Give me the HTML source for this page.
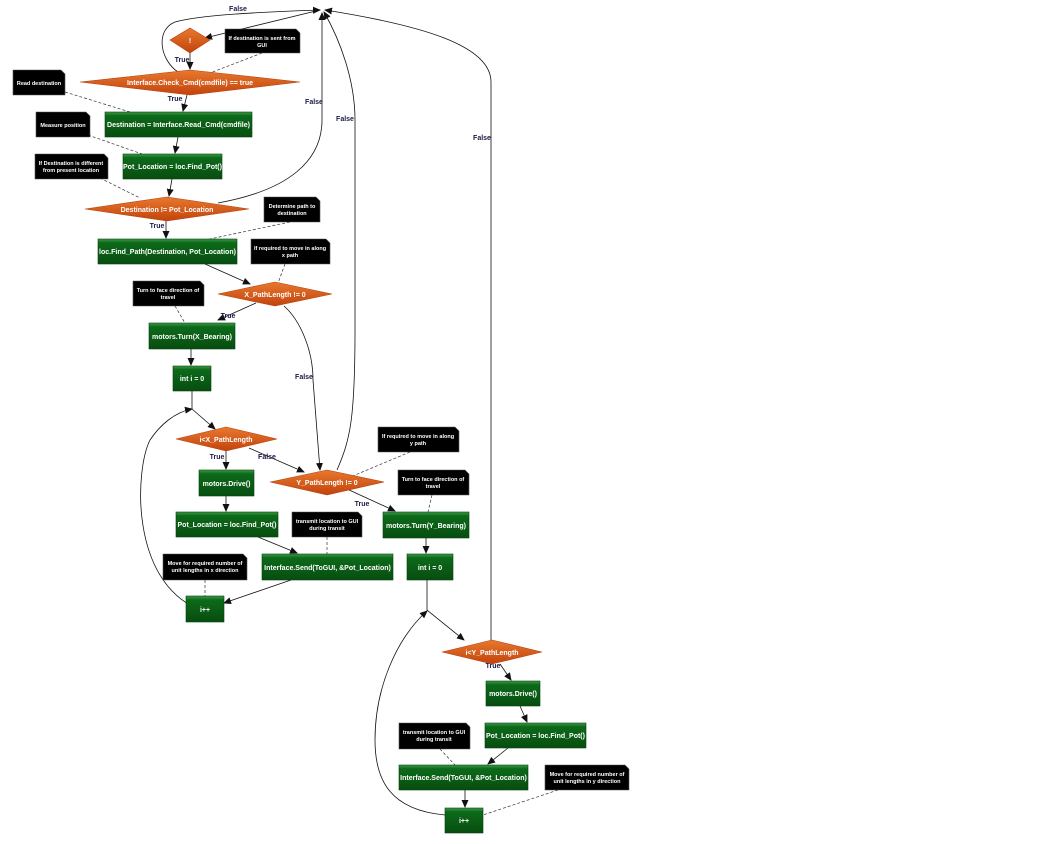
<!DOCTYPE html>
<html><head><meta charset="utf-8"><style>
html,body{margin:0;padding:0;background:#fff;}
svg{display:block;font-family:"Liberation Sans",sans-serif;}
.bt{fill:#fff;font-size:7px;text-anchor:middle;font-weight:bold;}
.nt{fill:#fff;font-size:5.5px;text-anchor:middle;font-weight:bold;}
.lb{fill:#1a1a4a;font-size:7px;font-weight:bold;text-anchor:middle;}
.e{fill:none;stroke:#111;stroke-width:0.8;}
.d{fill:none;stroke:#333;stroke-width:0.7;stroke-dasharray:3,2;}
</style></head><body>
<svg width="1060" height="844" viewBox="0 0 1060 844" xmlns="http://www.w3.org/2000/svg">
<defs>
<linearGradient id="g" x1="0" y1="0" x2="0" y2="1"><stop offset="0" stop-color="#3f9a47"/><stop offset="0.15" stop-color="#0d6a1a"/><stop offset="1" stop-color="#074d10"/></linearGradient>
<linearGradient id="o" x1="0" y1="0" x2="0" y2="1"><stop offset="0" stop-color="#e8792f"/><stop offset="1" stop-color="#c2430c"/></linearGradient>
<marker id="a" markerWidth="8" markerHeight="8" refX="7" refY="4" orient="auto" markerUnits="userSpaceOnUse"><path d="M0,0.5 L8,4 L0,7.5 z" fill="#111"/></marker>
</defs>

<!-- dashed note connectors -->
<g class="d">
<path d="M262,53 L210,73"/>
<path d="M65,92 L130,112"/>
<path d="M88,135 L142,154"/>
<path d="M100,178 L140,198"/>
<path d="M290,222 L205,240"/>
<path d="M285,264 L278,283"/>
<path d="M175,306 L185,323"/>
<path d="M410,452 L348,478"/>
<path d="M432,495 L428,512"/>
<path d="M327,537 L327,554"/>
<path d="M205,580 L205,596"/>
<path d="M440,749 L455,765"/>
<path d="M558,790 L483,815"/>
</g>

<!-- edges -->
<g class="e">
<path d="M320,10 L205,38" marker-end="url(#a)"/>
<path d="M190,53 L190,69" marker-end="url(#a)"/>
<path d="M178,72 C160,60 155,30 175,22 C200,15 260,12 320,10" marker-end="url(#a)"/>
<path d="M187,95 L183,111" marker-end="url(#a)"/>
<path d="M178,137 L175,153" marker-end="url(#a)"/>
<path d="M172,179 L169,196" marker-end="url(#a)"/>
<path d="M218,203 C290,190 322,160 322,120 L322,13" marker-end="url(#a)"/>
<path d="M166,221 L166,238" marker-end="url(#a)"/>
<path d="M205,264 L250,284" marker-end="url(#a)"/>
<path d="M256,303 L218,320" marker-end="url(#a)"/>
<path d="M284,306 C300,320 313,350 313,380 L320,470" marker-end="url(#a)"/>
<path d="M191,349 L191,365" marker-end="url(#a)"/>
<path d="M192,391 L192,409 L215,429" marker-end="url(#a)"/>
<path d="M226,451 L226,469" marker-end="url(#a)"/>
<path d="M249,448 L304,472" marker-end="url(#a)"/>
<path d="M226,496 L226,511" marker-end="url(#a)"/>
<path d="M258,537 L297,553" marker-end="url(#a)"/>
<path d="M291,580 L224,603" marker-end="url(#a)"/>
<path d="M198,609 C130,580 135,470 150,440 C160,425 175,412 192,409" marker-end="url(#a)"/>
<path d="M337,470 C350,440 355,420 355,330 L355,120 C355,80 340,40 324,12" marker-end="url(#a)"/>
<path d="M347,489 L395,511" marker-end="url(#a)"/>
<path d="M426,538 L426,553" marker-end="url(#a)"/>
<path d="M427,580 L427,610 L464,640" marker-end="url(#a)"/>
<path d="M491,640 L491,82 C491,45 420,25 325,10" marker-end="url(#a)"/>
<path d="M500,664 L511,680" marker-end="url(#a)"/>
<path d="M520,706 L527,722" marker-end="url(#a)"/>
<path d="M508,748 L488,764" marker-end="url(#a)"/>
<path d="M465,790 L465,807" marker-end="url(#a)"/>
<path d="M445,815 C390,810 375,780 375,740 C375,690 395,640 427,611" marker-end="url(#a)"/>
</g>

<!-- edge labels -->
<text class="lb" x="238" y="11">False</text>
<text class="lb" x="182" y="62">True</text>
<text class="lb" x="175" y="101">True</text>
<text class="lb" x="314" y="104">False</text>
<text class="lb" x="345" y="121">False</text>
<text class="lb" x="482" y="140">False</text>
<text class="lb" x="157" y="228">True</text>
<text class="lb" x="228" y="318">True</text>
<text class="lb" x="304" y="379">False</text>
<text class="lb" x="217" y="459">True</text>
<text class="lb" x="267" y="459">False</text>
<text class="lb" x="362" y="506">True</text>
<text class="lb" x="493" y="668">True</text>

<!-- diamonds -->
<g stroke="#b8420e" stroke-width="0.6" fill="url(#o)">
<polygon points="190,28 210,40 190,53 170,40"/>
<polygon points="190,70 300,82 190,95 80,82"/>
<polygon points="167,197 249,209 167,221 85,209"/>
<polygon points="275,282 332,294 275,306 218,294"/>
<polygon points="226,427 277,439 226,451 176,439"/>
<polygon points="327,470 384,482 327,495 270,482"/>
<polygon points="492,640 542,652 492,664 442,652"/>
</g>
<g class="bt">
<text x="190" y="43">!</text>
<text x="190" y="85">Interface.Check_Cmd(cmdfile) == true</text>
<text x="167" y="212">Destination != Pot_Location</text>
<text x="275" y="297">X_PathLength != 0</text>
<text x="226" y="442">i&lt;X_PathLength</text>
<text x="327" y="485">Y_PathLength != 0</text>
<text x="492" y="655">i&lt;Y_PathLength</text>
</g>

<!-- boxes -->
<g fill="url(#g)" stroke="#06420d" stroke-width="0.6">
<rect x="105" y="112" width="147" height="25"/>
<rect x="123" y="154" width="99" height="25"/>
<rect x="98" y="239" width="139" height="25"/>
<rect x="149" y="323" width="86" height="26"/>
<rect x="173" y="366" width="38" height="25"/>
<rect x="199" y="470" width="55" height="26"/>
<rect x="176" y="512" width="102" height="25"/>
<rect x="262" y="554" width="131" height="26"/>
<rect x="186" y="596" width="38" height="26"/>
<rect x="383" y="512" width="86" height="26"/>
<rect x="407" y="554" width="46" height="26"/>
<rect x="486" y="681" width="54" height="25"/>
<rect x="485" y="723" width="101" height="25"/>
<rect x="399" y="765" width="129" height="25"/>
<rect x="445" y="808" width="38" height="25"/>
</g>
<g class="bt">
<text x="178.5" y="127">Destination = Interface.Read_Cmd(cmdfile)</text>
<text x="172.5" y="169">Pot_Location = loc.Find_Pot()</text>
<text x="167.5" y="254">loc.Find_Path(Destination, Pot_Location)</text>
<text x="192" y="339">motors.Turn(X_Bearing)</text>
<text x="192" y="381">int i = 0</text>
<text x="226.5" y="486">motors.Drive()</text>
<text x="227" y="527">Pot_Location = loc.Find_Pot()</text>
<text x="327.5" y="570">Interface.Send(ToGUI, &amp;Pot_Location)</text>
<text x="205" y="612">i++</text>
<text x="426" y="528">motors.Turn(Y_Bearing)</text>
<text x="430" y="570">int i = 0</text>
<text x="513" y="696">motors.Drive()</text>
<text x="535.5" y="738">Pot_Location = loc.Find_Pot()</text>
<text x="463.5" y="780">Interface.Send(ToGUI, &amp;Pot_Location)</text>
<text x="464" y="823">i++</text>
</g>

<!-- notes -->
<g fill="#000" stroke="#555" stroke-width="0.6">
<path d="M225,29 H296 L300,33 V53 H225 Z"/>
<path d="M13,70 H61 L65,74 V95 H13 Z"/>
<path d="M36,112 H86 L90,116 V137 H36 Z"/>
<path d="M35,154 H104 L108,158 V179 H35 Z"/>
<path d="M264,197 H316 L320,201 V222 H264 Z"/>
<path d="M251,239 H326 L330,243 V264 H251 Z"/>
<path d="M133,281 H200 L204,285 V306 H133 Z"/>
<path d="M378,427 H455 L459,431 V452 H378 Z"/>
<path d="M398,470 H465 L469,474 V495 H398 Z"/>
<path d="M292,512 H358 L362,516 V537 H292 Z"/>
<path d="M163,554 H243 L247,558 V580 H163 Z"/>
<path d="M399,723 H466 L470,727 V749 H399 Z"/>
<path d="M545,765 H625 L629,769 V790 H545 Z"/>
</g>
<g class="nt">
<text x="262" y="40">If destination is sent from</text><text x="262" y="47">GUI</text>
<text x="39" y="85">Read destination</text>
<text x="63" y="127">Measure position</text>
<text x="71" y="165">If Destination is different</text><text x="71" y="172">from present location</text>
<text x="292" y="208">Determine path to</text><text x="292" y="215">destination</text>
<text x="290" y="250">If required to move in along</text><text x="290" y="257">x path</text>
<text x="168" y="292">Turn to face direction of</text><text x="168" y="299">travel</text>
<text x="418" y="438">If required to move in along</text><text x="418" y="445">y path</text>
<text x="433" y="481">Turn to face direction of</text><text x="433" y="488">travel</text>
<text x="327" y="523">transmit location to GUI</text><text x="327" y="530">during transit</text>
<text x="205" y="565">Move for required number of</text><text x="205" y="572">unit lengths in x direction</text>
<text x="434" y="734">transmit location to GUI</text><text x="434" y="741">during transit</text>
<text x="587" y="776">Move for required number of</text><text x="587" y="783">unit lengths in y direction</text>
</g>
</svg>
</body></html>
